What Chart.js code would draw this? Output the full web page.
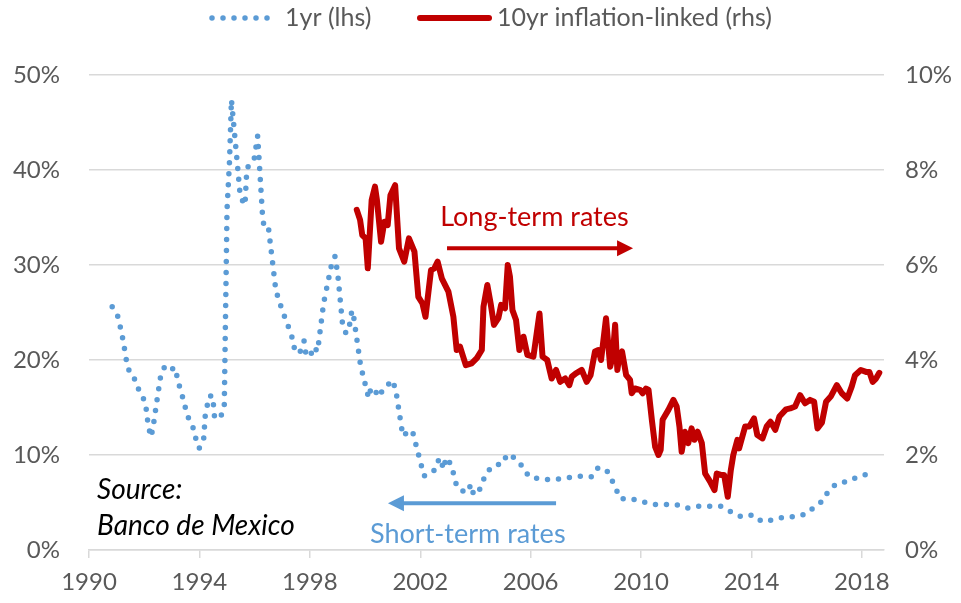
<!DOCTYPE html>
<html>
<head>
<meta charset="utf-8">
<script src="https://cdn.jsdelivr.net/npm/chart.js@4"></script>
<style>
  html, body { margin: 0; padding: 0; background: #fff; }
  #wrap { width: 961px; height: 603px; }
</style>
</head>
<body>
<div id="wrap"><canvas id="chart" width="961" height="603"></canvas></div>
<script>
// 1yr rate (lhs, %)
const yrDates = [1990.84, 1991.06, 1991.24, 1991.38, 1991.52, 1991.69, 1991.83, 1992.04, 1992.15, 1992.25,
  1992.33, 1992.46, 1992.59, 1992.75, 1992.98, 1993.13, 1993.21, 1993.45, 1993.55, 1993.75,
  1993.85, 1993.99, 1994.15, 1994.21, 1994.35, 1994.49, 1994.51, 1994.55, 1994.76, 1994.90,
  1995.00, 1995.09, 1995.16, 1995.28, 1995.36, 1995.48, 1995.65, 1995.72, 1995.98, 1996.11,
  1996.29, 1996.36, 1996.51, 1996.77, 1996.99, 1997.25, 1997.40, 1997.46, 1997.64, 1997.79,
  1997.85, 1998.01, 1998.13, 1998.28, 1998.50, 1998.77, 1998.91, 1999.01, 1999.18, 1999.31,
  1999.46, 1999.52, 1999.59, 1999.84, 2000.13, 2000.22, 2000.37, 2000.47, 2000.59, 2000.76,
  2000.94, 2001.10, 2001.37, 2001.49, 2001.71, 2002.03, 2002.14, 2002.34, 2002.55, 2002.69,
  2002.86, 2002.92, 2003.12, 2003.33, 2003.66, 2003.85, 2003.93, 2004.14, 2004.40, 2004.74,
  2004.96, 2005.16, 2005.41, 2005.70, 2005.94, 2006.30, 2006.71, 2007.09, 2007.86, 2008.21,
  2008.45, 2008.77, 2008.97, 2009.25, 2009.62, 2010.04, 2010.45, 2011.24, 2011.64, 2012.08,
  2012.90, 2013.27, 2013.63, 2014.06, 2014.38, 2014.82, 2015.22, 2015.62, 2015.98, 2016.27,
  2016.59, 2016.78, 2017.08, 2017.47, 2017.85, 2018.20];
const yrValues = [25.6, 24.5, 22.0, 19.5, 18.3, 17.9, 16.6, 15.6, 13.0, 11.9,
  13.1, 15.7, 18.2, 19.4, 19.0, 19.2, 17.9, 15.5, 14.2, 13.1,
  11.9, 10.7, 11.5, 14.1, 16.2, 16.2, 15.2, 13.9, 13.9, 15.1,
  35.8, 40.9, 47.4, 43.6, 41.1, 37.2, 36.3, 40.2, 41.1, 43.6,
  35.0, 33.7, 33.7, 27.3, 25.3, 23.3, 22.0, 20.8, 20.8, 22.0,
  20.8, 20.3, 21.4, 20.9, 26.0, 29.8, 30.9, 29.1, 23.9, 22.8,
  23.9, 25.2, 24.5, 19.4, 16.0, 17.1, 16.8, 16.1, 16.6, 17.0,
  17.9, 17.1, 12.0, 12.3, 12.6, 9.0, 7.8, 8.0, 8.5, 9.7,
  8.5, 9.7, 9.0, 6.6, 6.0, 6.9, 5.8, 6.3, 8.2, 9.0,
  9.0, 10.1, 9.7, 8.8, 7.7, 7.5, 7.4, 7.5, 7.8, 7.7,
  8.7, 8.3, 7.2, 5.4, 5.4, 5.1, 4.8, 4.8, 4.4, 4.6,
  4.6, 4.0, 3.5, 3.7, 3.0, 3.2, 3.5, 3.5, 3.8, 4.5,
  5.2, 6.2, 7.0, 7.2, 7.7, 8.0];

// 10yr inflation-linked (rhs, %)
const tenDates = [1999.70, 1999.82, 1999.90, 2000.02, 2000.10, 2000.24, 2000.36, 2000.43, 2000.58, 2000.70,
  2000.82, 2000.92, 2001.09, 2001.23, 2001.42, 2001.59, 2001.79, 2001.93, 2002.08, 2002.19,
  2002.39, 2002.51, 2002.63, 2002.78, 2003.02, 2003.20, 2003.32, 2003.44, 2003.65, 2003.86,
  2004.05, 2004.23, 2004.29, 2004.43, 2004.55, 2004.67, 2004.83, 2004.93, 2005.07, 2005.17,
  2005.25, 2005.34, 2005.47, 2005.59, 2005.74, 2005.88, 2006.10, 2006.32, 2006.43, 2006.60,
  2006.76, 2006.92, 2007.07, 2007.25, 2007.40, 2007.49, 2007.64, 2007.85, 2008.03, 2008.17,
  2008.33, 2008.45, 2008.55, 2008.73, 2008.88, 2008.97, 2009.06, 2009.14, 2009.21, 2009.31,
  2009.46, 2009.60, 2009.66, 2009.78, 2009.96, 2010.06, 2010.18, 2010.27, 2010.39, 2010.51,
  2010.63, 2010.71, 2010.78, 2010.99, 2011.17, 2011.29, 2011.39, 2011.47, 2011.59, 2011.71,
  2011.83, 2011.93, 2012.05, 2012.20, 2012.32, 2012.50, 2012.66, 2012.74, 2012.89, 2013.01,
  2013.14, 2013.25, 2013.34, 2013.49, 2013.55, 2013.77, 2013.92, 2014.09, 2014.21, 2014.40,
  2014.55, 2014.69, 2014.86, 2015.01, 2015.25, 2015.40, 2015.58, 2015.76, 2015.94, 2016.12,
  2016.27, 2016.39, 2016.55, 2016.70, 2016.87, 2017.09, 2017.27, 2017.47, 2017.63, 2017.75,
  2017.96, 2018.15, 2018.27, 2018.39, 2018.51, 2018.63];
const tenValues = [7.16, 6.95, 6.63, 6.56, 5.93, 7.37, 7.65, 7.37, 6.49, 6.91,
  6.84, 7.47, 7.68, 6.35, 6.07, 6.56, 6.28, 5.33, 5.19, 4.91,
  5.89, 5.93, 6.07, 5.72, 5.44, 4.91, 4.21, 4.28, 3.89, 3.93,
  4.04, 4.21, 5.12, 5.58, 5.19, 4.74, 4.88, 5.16, 5.09, 6.00,
  5.75, 5.05, 4.84, 4.21, 4.49, 4.11, 4.07, 4.98, 4.07, 4.00,
  3.61, 3.79, 3.54, 3.61, 3.47, 3.65, 3.72, 3.79, 3.54, 3.68,
  4.18, 4.21, 4.00, 4.88, 3.86, 4.07, 4.74, 3.79, 4.07, 4.18,
  3.68, 3.58, 3.30, 3.40, 3.37, 3.30, 3.40, 3.37, 2.74, 2.17,
  2.00, 2.11, 2.74, 2.95, 3.16, 3.02, 2.60, 2.07, 2.49, 2.25,
  2.56, 2.32, 2.49, 2.25, 1.61, 1.44, 1.26, 1.61, 1.58, 1.58,
  1.12, 1.68, 2.00, 2.32, 2.14, 2.60, 2.60, 2.77, 2.42, 2.35,
  2.60, 2.70, 2.53, 2.81, 2.96, 2.98, 3.02, 3.26, 3.09, 3.16,
  3.12, 2.56, 2.68, 3.12, 3.23, 3.47, 3.30, 3.19, 3.44, 3.68,
  3.79, 3.75, 3.75, 3.54, 3.61, 3.73];

const seriesNames = ['1yr (lhs)', '10yr inflation-linked (rhs)'];
const yearTicks = [1990, 1994, 1998, 2002, 2006, 2010, 2014, 2018];

const BLUE = '#5B9BD5';
const RED = '#C00000';
const GREY = '#595959';
const GRID = '#D9D9D9';
const FONT = 'Lato, "Liberation Sans", sans-serif';

const toXY = (xs, ys) => xs.map((x, i) => ({ x, y: ys[i] }));

// legend + text annotations, drawn on top of the chart
const extras = {
  id: 'extras',
  afterDraw(chart) {
    const ctx = chart.ctx;
    const xs = chart.scales.x, yl = chart.scales.yL;
    const px = v => xs.getPixelForValue(v);
    const py = v => yl.getPixelForValue(v);

    ctx.save();
    // legend
    ctx.lineCap = 'round';
    ctx.strokeStyle = BLUE;
    ctx.lineWidth = 5.5;
    ctx.setLineDash([0, 11]);
    ctx.beginPath(); ctx.moveTo(212, 18); ctx.lineTo(276, 18); ctx.stroke();
    ctx.setLineDash([]);
    ctx.strokeStyle = RED;
    ctx.lineWidth = 6;
    ctx.beginPath(); ctx.moveTo(420, 18); ctx.lineTo(489, 18); ctx.stroke();
    ctx.font = '25px ' + FONT;
    ctx.fillStyle = GREY;
    ctx.textBaseline = 'middle';
    ctx.fillText(seriesNames[0], 285, 18);
    ctx.fillText(seriesNames[1], 497, 18);

    // arrows
    const arrow = (x0, x1, y, color) => {
      const dir = Math.sign(x1 - x0);
      ctx.strokeStyle = color; ctx.fillStyle = color;
      ctx.lineWidth = 4; ctx.lineCap = 'butt';
      ctx.beginPath(); ctx.moveTo(x0, y); ctx.lineTo(x1 - dir * 12, y); ctx.stroke();
      ctx.beginPath();
      ctx.moveTo(x1, y);
      ctx.lineTo(x1 - dir * 16, y - 8);
      ctx.lineTo(x1 - dir * 16, y + 8);
      ctx.closePath(); ctx.fill();
    };
    arrow(px(2002.97), px(2009.71), py(31.76), RED);
    arrow(px(2006.92), px(2000.83), py(4.92), BLUE);

    ctx.textBaseline = 'alphabetic';
    ctx.font = '27px ' + FONT;
    ctx.fillStyle = RED;
    ctx.fillText('Long-term rates', px(2002.72), py(34.1));
    ctx.fillStyle = BLUE;
    ctx.fillText('Short-term rates', px(2000.18), py(0.74));

    ctx.font = 'italic 28px ' + FONT;
    ctx.fillStyle = '#000';
    ctx.fillText('Source:', px(1990.29), py(5.37));
    ctx.fillText('Banco de Mexico', px(1990.29), py(1.58));
    ctx.restore();
  }
};

new Chart(document.getElementById('chart'), {
  type: 'line',
  data: {
    datasets: [
      {
        label: seriesNames[0],
        data: toXY(yrDates, yrValues),
        yAxisID: 'yL',
        borderColor: BLUE,
        borderWidth: 5.5,
        borderDash: [0, 11],
        borderCapStyle: 'round',
        borderJoinStyle: 'round',
        pointRadius: 0,
        tension: 0
      },
      {
        label: seriesNames[1],
        data: toXY(tenDates, tenValues),
        yAxisID: 'yR',
        borderColor: RED,
        borderWidth: 6,
        borderCapStyle: 'round',
        borderJoinStyle: 'round',
        pointRadius: 0,
        tension: 0
      }
    ]
  },
  options: {
    responsive: false,
    animation: false,
    layout: { padding: { top: 75, left: 0, right: 0, bottom: 0 } },
    plugins: {
      legend: { display: false },
      tooltip: { enabled: false }
    },
    scales: {
      x: {
        type: 'linear',
        min: 1990,
        max: 2018.8,
        afterBuildTicks: s => { s.ticks = yearTicks.map(v => ({ value: v })); },
        ticks: {
          includeBounds: false,
          autoSkip: false,
          maxRotation: 0,
          padding: 10,
          color: GREY,
          font: { family: FONT, size: 24 },
          callback: v => String(v)
        },
        grid: { drawOnChartArea: false, drawTicks: true, tickLength: 8, color: GRID, lineWidth: 1.5 },
        border: { display: true, color: GRID, width: 1.5 },
        afterFit: s => { s.height = 53; }
      },
      yL: {
        position: 'left',
        min: 0,
        max: 50,
        ticks: {
          stepSize: 10,
          padding: 29,
          color: GREY,
          font: { family: FONT, size: 24 },
          callback: v => v + '%'
        },
        grid: { color: GRID, lineWidth: 1.5, drawTicks: false },
        border: { display: false },
        afterFit: s => { s.width = 89; }
      },
      yR: {
        position: 'right',
        min: 0,
        max: 10,
        ticks: {
          stepSize: 2,
          padding: 21,
          color: GREY,
          font: { family: FONT, size: 24 },
          callback: v => v + '%'
        },
        grid: { display: false, drawTicks: false },
        border: { display: false },
        afterFit: s => { s.width = 77; }
      }
    }
  },
  plugins: [extras]
});
</script>
</body>
</html>
